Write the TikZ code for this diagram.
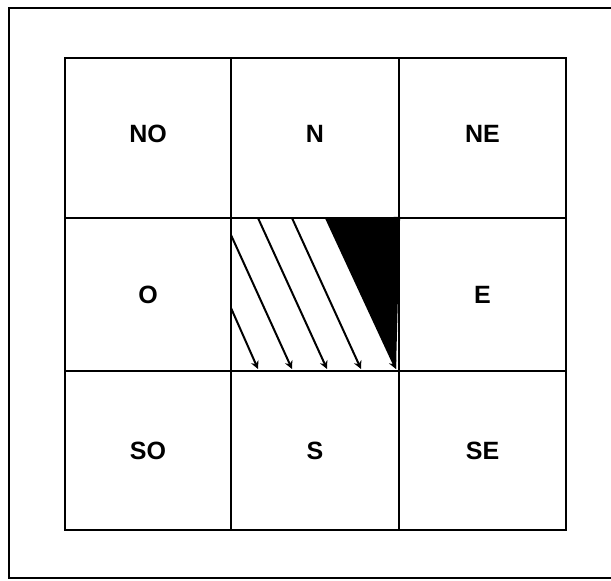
\documentclass[tikz,border=0pt]{standalone}
\usepackage{fontspec}
\setmainfont{Liberation Sans}
\usetikzlibrary{arrows.meta}
\begin{document}
\begin{tikzpicture}[x=1pt,y=-1pt,
  cell/.style={draw=black, line width=2.2pt, inner sep=0pt, font=\bfseries\fontsize{25}{25}\selectfont, text height=18pt, text depth=0pt},
  toprow/.style={text depth=10pt},
  flow/.style={line width=2pt, -{Stealth[length=8pt,width=8pt]}}]
\useasboundingbox (0,0) rectangle (611,581);
\draw[line width=2.6pt] (9,8) rectangle (640,578);
% column edges 65, 231, 399, 566 ; row edges 58, 218, 371, 530
\node[cell, toprow, minimum width=166pt, minimum height=160pt] (NO) at (148,138) {NO};
\node[cell, toprow, minimum width=168pt, minimum height=160pt] (N)  at (315,138) {N};
\node[cell, toprow, minimum width=167pt, minimum height=160pt] (NE) at (482.5,138) {NE};
\node[cell, minimum width=166pt, minimum height=153pt] (O)  at (148,294.5) {O};
\node[cell, minimum width=168pt, minimum height=153pt] (C)  at (315,294.5) {};
\node[cell, minimum width=167pt, minimum height=153pt] (E)  at (482.5,294.5) {E};
\node[cell, minimum width=166pt, minimum height=159pt] (SO) at (148,450.5) {SO};
\node[cell, minimum width=168pt, minimum height=159pt] (S)  at (315,450.5) {S};
\node[cell, minimum width=167pt, minimum height=159pt] (SE) at (482.5,450.5) {SE};
% shaded part of the centre cell
\coordinate (b0) at (326,218);
\coordinate (b1) at (C.north east);
\coordinate (b2) at (396,369);
\fill[black] (b0) -- (b1) -- (b2) -- cycle;
% flow arrows
\coordinate (s1) at (231,308);
\coordinate (e1) at (258,369);
\coordinate (s2) at (231,235);
\coordinate (e2) at (292,369);
\coordinate (s3) at (258,218);
\coordinate (e3) at (327,369);
\coordinate (s4) at (292,218);
\coordinate (e4) at (361,369);
\draw[flow] (s1) -- (e1);
\draw[flow] (s2) -- (e2);
\draw[flow] (s3) -- (e3);
\draw[flow] (s4) -- (e4);
\draw[flow] (b0) -- (b2);
\end{tikzpicture}
\end{document}
